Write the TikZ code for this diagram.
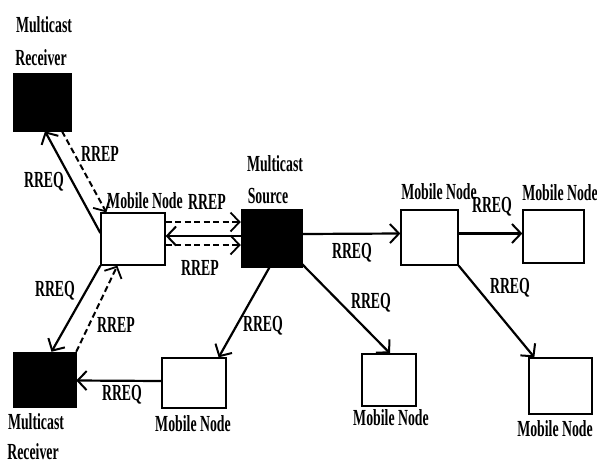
\documentclass[tikz,border=0pt]{standalone}
\usepackage{fontspec}
\newfontfamily\lblfont[FakeStretch=0.6]{Liberation Serif}
\usetikzlibrary{arrows.meta,calc}
\begin{document}
\begin{tikzpicture}[x=1pt,y=-1pt,
  box/.style={draw=black,line width=1.3pt,fill=white,minimum width=#1,inner sep=0pt},
  blk/.style={draw=black,line width=0.5pt,fill=black,inner sep=0pt},
  lbl/.style={inner sep=0pt,font=\lblfont\bfseries\fontsize{23}{26}\selectfont},
  sarr/.style={line width=2.2pt,-{Straight Barb[length=9pt,width=19pt,line width=2pt]}},
  darr/.style={line width=2pt,dash pattern=on 6pt off 3.5pt,-{Straight Barb[length=9pt,width=19pt,line width=1.8pt]}}
]
\useasboundingbox (0,0) rectangle (597,464);
% nodes
\node[blk,minimum width=58pt,minimum height=58pt] (rt) at (42,102) {};
\node[blk,minimum width=63pt,minimum height=55pt] (rb) at (44.5,379.5) {};
\node[blk,minimum width=61pt,minimum height=58pt] (src) at (271.5,238) {};
\node[box=64pt,minimum height=52pt] (mn1) at (133,239) {};
\node[box=57pt,minimum height=55pt] (mn2) at (429.5,237.5) {};
\node[box=61pt,minimum height=53pt] (mn3) at (553.5,236.5) {};
\node[box=64pt,minimum height=50pt] (mnb) at (194,383) {};
\node[box=54pt,minimum height=52pt] (mn4) at (389,380) {};
\node[box=63pt,minimum height=56pt] (mn5) at (560.5,386) {};
% labels
\node[lbl] (lrt1) at (44,25) {Multicast};
\node[lbl] (lrt2) at (41,58) {Receiver};
\node[lbl] (lrb1) at (36,422) {Multicast};
\node[lbl] (lrb2) at (33,452) {Receiver};
\node[lbl] (ls1) at (275,164) {Multicast};
\node[lbl] (ls2) at (268,196) {Source};
\node[lbl] (lmn1) at (145,201) {Mobile Node};
\node[lbl] (lmn2) at (439,192) {Mobile Node};
\node[lbl] (lmn3) at (560,193) {Mobile Node};
\node[lbl] (lmnb) at (193,424) {Mobile Node};
\node[lbl] (lmn4) at (391,418) {Mobile Node};
\node[lbl] (lmn5) at (555,429) {Mobile Node};
\node[lbl] (q1) at (44,182) {RREQ};
\node[lbl] (p1) at (100,154) {RREP};
\node[lbl] (p2) at (207,202) {RREP};
\node[lbl] (p3) at (200,268) {RREP};
\node[lbl] (q2) at (55,291) {RREQ};
\node[lbl] (p4) at (116,325) {RREP};
\node[lbl] (q3) at (352,253) {RREQ};
\node[lbl] (q4) at (492,207) {RREQ};
\node[lbl] (q5) at (371,303) {RREQ};
\node[lbl] (q6) at (510,288) {RREQ};
\node[lbl] (q7) at (263,326) {RREQ};
\node[lbl] (q8) at (122,395) {RREQ};
% connectors
\draw[sarr] ($(mn1.west)+(0,-6)$) -- ($(rt.south)+(3,0)$);
\draw[darr] ($(rt.south)+(20,0)$) -- ($(mn1.north west)+(6,0)$);
\draw[darr] ($(mn1.east)+(0,-17)$) -- ($(src.west)+(0,-16)$);
\draw[sarr] ($(src.west)+(0,-2)$) -- ($(mn1.east)+(0,-3)$);
\draw[darr] ($(mn1.east)+(0,6)$) -- ($(src.west)+(0,7)$);
\draw[sarr] (mn1.south west) -- ($(rb.north)+(7,0)$);
\draw[darr] (rb.north east) -- ($(mn1.south west)+(17,0)$);
\draw[sarr] ($(src.east)+(0,-4)$) -- ($(mn2.west)+(0,-4)$);
\draw[sarr] ($(mn2.east)+(0,-4)$) -- ($(mn3.west)+(0,-3)$);
\draw[sarr] ($(src.south east)+(0,-3)$) -- ($(mn4.north)+(1,0)$);
\draw[sarr] ($(src.south)+(-2,0)$) -- ($(mnb.north east)+(-8,0)$);
\draw[sarr] (mn2.south east) -- ($(mn5.north west)+(6,0)$);
\draw[sarr] ($(mnb.west)+(0,-2)$) -- ($(rb.east)+(0,1)$);
\end{tikzpicture}
\end{document}
